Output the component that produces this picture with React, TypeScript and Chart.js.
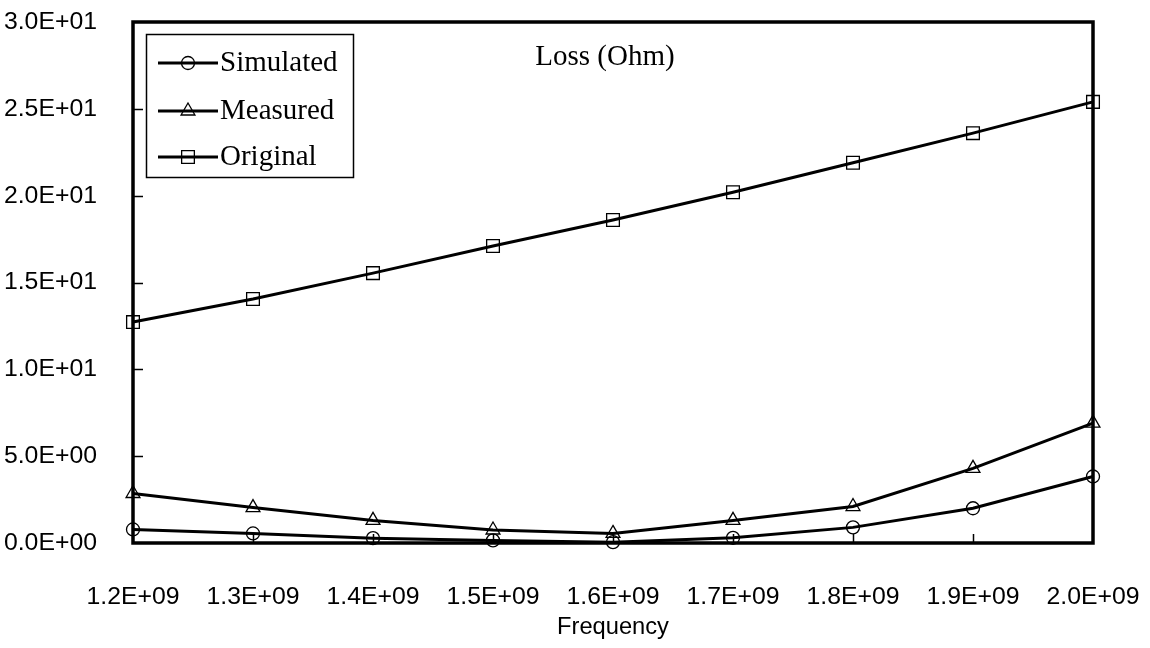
import React, { useEffect, useRef } from 'react';
import { Chart, registerables } from 'chart.js';

Chart.register(...registerables);

// Frequency sweep (Hz) and loss values (Ohm) for each series
const frequencies = [1.2e9, 1.3e9, 1.4e9, 1.5e9, 1.6e9, 1.7e9, 1.8e9, 1.9e9, 2.0e9];
const simulated = [0.78, 0.55, 0.28, 0.15, 0.05, 0.3, 0.9, 2.0, 3.83];
const measured = [2.85, 2.04, 1.3, 0.75, 0.55, 1.3, 2.1, 4.3, 6.9];
const original = [12.72, 14.05, 15.54, 17.1, 18.6, 20.2, 21.9, 23.6, 25.4];

const seriesNames = ['Simulated', 'Measured', 'Original'];
const chartTitle = 'Loss (Ohm)';
const xAxisTitle = 'Frequency';

const X_MIN = 1.2e9;
const X_MAX = 2.0e9;
const X_STEP = 1e8;
const Y_MIN = 0;
const Y_MAX = 30;
const Y_STEP = 5;

const TICK_FONT = '"Liberation Sans Narrow", "Liberation Sans", sans-serif';
const SERIF_FONT = '"Liberation Serif", "DejaVu Serif", serif';

// Excel-style scientific notation: 1.2E+09, 0.0E+00
function sci(v: number): string {
  const [mant, exp] = Number(v).toExponential(1).split('e');
  const sign = exp[0] === '-' ? '-' : '+';
  const digits = exp.replace(/^[+-]/, '').padStart(2, '0');
  return `${mant}E${sign}${digits}`;
}

// pick a font size so that a sample string spans the wanted width
function fitFontSize(text: string, family: string, width: number, maxSize: number): number {
  const ctx = document.createElement('canvas').getContext('2d');
  if (!ctx) return maxSize;
  ctx.font = `100px ${family}`;
  const w = ctx.measureText(text).width;
  if (!w) return maxSize;
  return Math.min(maxSize, Math.round((1000 * width) / w) / 10);
}

function drawMarker(ctx: CanvasRenderingContext2D, style: string, x: number, y: number, r: number) {
  ctx.beginPath();
  if (style === 'circle') {
    ctx.arc(x, y, r, 0, Math.PI * 2);
  } else if (style === 'triangle') {
    let a = 0;
    ctx.moveTo(x + Math.sin(a) * r, y - Math.cos(a) * r);
    a += (2 * Math.PI) / 3;
    ctx.lineTo(x + Math.sin(a) * r, y - Math.cos(a) * r);
    a += (2 * Math.PI) / 3;
    ctx.lineTo(x + Math.sin(a) * r, y - Math.cos(a) * r);
    ctx.closePath();
  } else {
    const s = Math.SQRT1_2 * r;
    ctx.rect(x - s, y - s, 2 * s, 2 * s);
  }
  ctx.stroke();
}

// Plot frame and inward-pointing tick marks
const framePlugin = {
  id: 'plotFrame',
  beforeDatasetsDraw(chart: any) {
    const { ctx, chartArea: a, scales } = chart;
    ctx.save();
    ctx.strokeStyle = '#000';
    ctx.lineWidth = 1.5;
    ctx.beginPath();
    scales.y.ticks.forEach((t: any) => {
      if (t.value <= Y_MIN || t.value >= Y_MAX) return;
      const py = Math.round(scales.y.getPixelForValue(t.value)) + 0.5;
      ctx.moveTo(a.left, py);
      ctx.lineTo(a.left + 10, py);
    });
    scales.x.ticks.forEach((t: any) => {
      if (t.value <= X_MIN + 1 || t.value >= X_MAX - 1) return;
      const px = Math.round(scales.x.getPixelForValue(t.value)) + 0.5;
      ctx.moveTo(px, a.bottom);
      ctx.lineTo(px, a.bottom - 9);
    });
    ctx.stroke();
    ctx.lineWidth = 3.5;
    ctx.strokeRect(a.left, a.top, a.right - a.left, a.bottom - a.top);
    ctx.restore();
  },
};

// In-plot title and boxed legend
const overlayPlugin = {
  id: 'plotOverlay',
  afterDraw(chart: any) {
    const { ctx } = chart;
    ctx.save();
    ctx.fillStyle = '#000';
    ctx.strokeStyle = '#000';
    ctx.font = `29px ${SERIF_FONT}`;
    ctx.textAlign = 'center';
    ctx.textBaseline = 'middle';
    ctx.fillText(chartTitle, 605, 57);

    // legend box
    const bx = 146, by = 34, bw = 207, bh = 143;
    ctx.fillStyle = '#fff';
    ctx.fillRect(bx, by, bw, bh);
    ctx.lineWidth = 1.5;
    ctx.strokeRect(bx + 0.5, by + 0.5, bw, bh);

    const rows = [63, 111, 157];
    chart.data.datasets.forEach((ds: any, i: number) => {
      const y = rows[i];
      ctx.lineWidth = 3;
      ctx.beginPath();
      ctx.moveTo(158, y);
      ctx.lineTo(218, y);
      ctx.stroke();
      ctx.lineWidth = 1.3;
      drawMarker(ctx, ds.pointStyle, 188, y, ds.pointRadius);
      ctx.fillStyle = '#000';
      ctx.textAlign = 'left';
      ctx.textBaseline = 'middle';
      ctx.font = `29px ${SERIF_FONT}`;
      ctx.fillText(ds.label, 220, y);
    });
    ctx.restore();
  },
};

function makeDataset(label: string, values: number[], pointStyle: string, radius: number) {
  return {
    label,
    data: frequencies.map((f, i) => ({ x: f, y: values[i] })),
    borderColor: '#000',
    borderWidth: 3,
    pointStyle,
    pointRadius: radius,
    pointHoverRadius: radius,
    pointBorderWidth: 1.3,
    pointBorderColor: '#000',
    pointBackgroundColor: 'rgba(0,0,0,0)',
    tension: 0,
    fill: false,
    clip: false as any,
  };
}

// keep the plot area fixed by ignoring label overhang padding
function zeroPadding(scale: any) {
  scale.paddingLeft = 0;
  scale.paddingRight = 0;
  scale.paddingTop = 0;
  scale.paddingBottom = 0;
}

export default function App() {
  const canvasRef = useRef<HTMLCanvasElement | null>(null);

  useEffect(() => {
    if (!canvasRef.current) return;
    const tickSize = fitFontSize('3.0E+01', TICK_FONT, 93, 26);
    const axisTitleSize = fitFontSize(xAxisTitle, TICK_FONT, 112, 27);
    const chart = new Chart(canvasRef.current, {
      type: 'line',
      data: {
        datasets: [
          makeDataset(seriesNames[0], simulated, 'circle', 6.5),
          makeDataset(seriesNames[1], measured, 'triangle', 8),
          makeDataset(seriesNames[2], original, 'rect', 9),
        ],
      },
      options: {
        responsive: true,
        maintainAspectRatio: false,
        animation: false,
        layout: { padding: { top: 22, right: 57, left: 0, bottom: 0 } },
        plugins: {
          legend: { display: false },
          title: { display: false },
          tooltip: { enabled: false },
        },
        scales: {
          x: {
            type: 'linear',
            min: X_MIN,
            max: X_MAX,
            grid: { display: false },
            border: { display: false },
            ticks: {
              stepSize: X_STEP,
              color: '#000',
              padding: 46 - tickSize * 0.6,
              maxRotation: 0,
              autoSkip: false,
              font: { family: TICK_FONT, size: tickSize },
              callback: (v: any) => sci(Number(v)),
            },
            title: {
              display: true,
              text: xAxisTitle,
              color: '#000',
              font: { family: TICK_FONT, size: axisTitleSize },
              padding: { top: 0, bottom: 21 - axisTitleSize * 0.6 },
            },
            afterFit: (scale: any) => {
              scale.height = 105;
              zeroPadding(scale);
            },
          },
          y: {
            type: 'linear',
            min: Y_MIN,
            max: Y_MAX,
            grid: { display: false },
            border: { display: false },
            ticks: {
              stepSize: Y_STEP,
              color: '#000',
              padding: 28,
              font: { family: TICK_FONT, size: tickSize },
              callback: (v: any) => sci(Number(v)),
            },
            afterFit: (scale: any) => {
              scale.width = 133;
              zeroPadding(scale);
            },
          },
        },
      },
      plugins: [framePlugin, overlayPlugin],
    });
    return () => chart.destroy();
  }, []);

  return (
    <div
      style={{
        position: 'fixed',
        left: 0,
        top: 0,
        width: 1150,
        height: 648,
        background: '#fff',
      }}
    >
      <canvas ref={canvasRef} />
    </div>
  );
}
